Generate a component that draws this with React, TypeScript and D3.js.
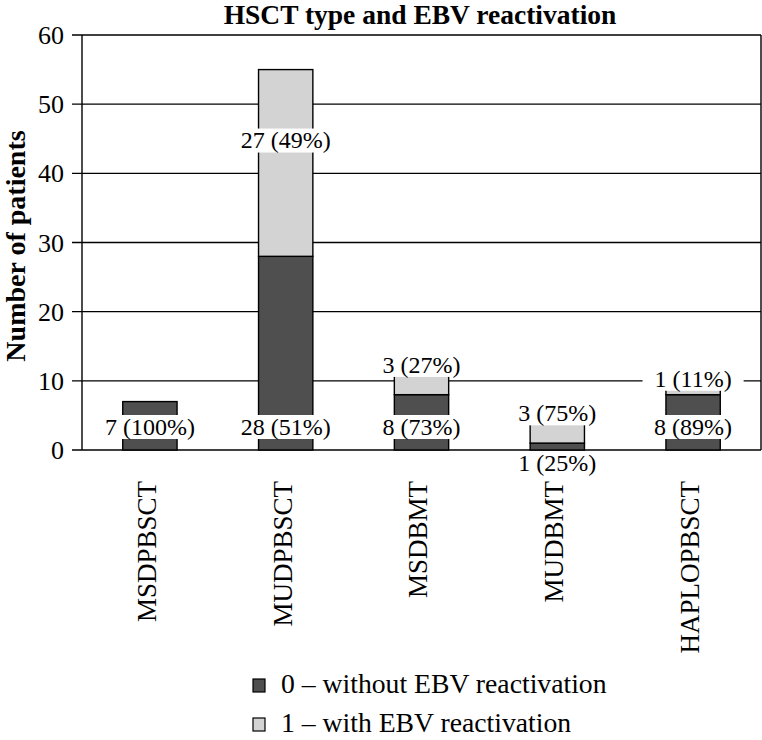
import React, { useEffect, useRef } from 'react';
import * as d3 from 'd3';

const categories = ['MSDPBSCT', 'MUDPBSCT', 'MSDBMT', 'MUDBMT', 'HAPLOPBSCT'];
const withoutEbv = [7, 28, 8, 1, 8];
const withEbv = [0, 27, 3, 3, 1];
const yTicks = [0, 10, 20, 30, 40, 50, 60];
const legendLabels = ['0 \u2013 without EBV reactivation', '1 \u2013 with EBV reactivation'];

const W = 762;
const H = 740;
const margin = { left: 82, right: 1, top: 35, bottom: 290 };
const colors = { dark: '#4f4f4f', light: '#d3d3d3' };
const serif = 'Liberation Serif, Times New Roman, Times, DejaVu Serif, serif';

export default function App() {
  const ref = useRef<SVGSVGElement | null>(null);

  useEffect(() => {
    const svg = d3.select(ref.current).attr('font-family', serif);
    svg.selectAll('*').remove();

    const x = d3.scaleBand()
      .domain(categories)
      .range([margin.left, W - margin.right])
      .paddingInner(0.6)
      .paddingOuter(0.3);
    const y = d3.scaleLinear().domain([0, 60]).range([H - margin.bottom, margin.top]);
    const y0 = y(0);

    svg.append('rect').attr('width', W).attr('height', H).attr('fill', '#fff');

    // title
    svg.append('text')
      .attr('x', 420)
      .attr('y', 24)
      .attr('text-anchor', 'middle')
      .attr('font-weight', 'bold')
      .attr('font-size', 27.5)
      .text('HSCT type and EBV reactivation');

    // gridlines + ticks
    const grid = svg.append('g');
    grid.selectAll('line')
      .data(yTicks)
      .enter()
      .append('line')
      .attr('x1', margin.left - 10)
      .attr('x2', W - margin.right)
      .attr('y1', d => y(d))
      .attr('y2', d => y(d))
      .attr('stroke', '#000')
      .attr('stroke-width', 1.4);
    grid.selectAll('text')
      .data(yTicks)
      .enter()
      .append('text')
      .attr('x', 64)
      .attr('y', d => y(d))
      .attr('dy', '0.35em')
      .attr('text-anchor', 'end')
      .attr('font-size', 26)
      .text(d => d);
    // left axis and right border
    svg.append('line')
      .attr('x1', margin.left).attr('x2', margin.left)
      .attr('y1', y(60)).attr('y2', y0)
      .attr('stroke', '#000').attr('stroke-width', 1.4);
    svg.append('line')
      .attr('x1', W - margin.right).attr('x2', W - margin.right)
      .attr('y1', y(60)).attr('y2', y0)
      .attr('stroke', '#000').attr('stroke-width', 1.4);

    // y title
    svg.append('text')
      .attr('transform', 'translate(25,' + 246 + ') rotate(-90)')
      .attr('text-anchor', 'middle')
      .attr('font-weight', 'bold')
      .attr('font-size', 28)
      .text('Number of patients');

    // bars
    const bars = svg.append('g');
    categories.forEach((c, i) => {
      const a = withoutEbv[i];
      const b = withEbv[i];
      bars.append('rect')
        .attr('x', x(c)!)
        .attr('y', y(a))
        .attr('width', x.bandwidth())
        .attr('height', y0 - y(a))
        .attr('fill', colors.dark)
        .attr('stroke', '#000')
        .attr('stroke-width', 1.4);
      if (b > 0) {
        bars.append('rect')
          .attr('x', x(c)!)
          .attr('y', y(a + b))
          .attr('width', x.bandwidth())
          .attr('height', y(a) - y(a + b))
          .attr('fill', colors.light)
          .attr('stroke', '#000')
          .attr('stroke-width', 1.4);
      }
    });

    // value labels with white boxes
    const labels = svg.append('g');
    const addLabel = (cx: number, cy: number, txt: string) => {
      const g = labels.append('g');
      const rect = g.append('rect').attr('fill', '#fff');
      const t = g.append('text')
        .attr('x', cx)
        .attr('y', cy)
        .attr('dy', '0.33em')
        .attr('text-anchor', 'middle')
        .attr('font-size', 24)
        .text(txt);
      const w = (t.node() as SVGTextElement).getComputedTextLength();
      rect.attr('x', cx - w / 2 - 12).attr('y', cy - 12).attr('width', w + 24).attr('height', 24);
    };
    categories.forEach((c, i) => {
      const a = withoutEbv[i];
      const b = withEbv[i];
      const total = a + b;
      const cx = x(c)! + x.bandwidth() / 2;
      const hA = y0 - y(a);
      const yA = hA < 20 ? y0 + 13 : Math.max((y0 + y(a)) / 2, y0 - 23);
      addLabel(cx, yA, a + ' (' + Math.round((a / total) * 100) + '%)');
      if (b > 0) {
        const top = y(a + b);
        const hB = y(a) - top;
        const yB = hB > 100 ? top + 0.38 * hB : top - 9;
        addLabel(cx, yB, b + ' (' + Math.round((b / total) * 100) + '%)');
      }
    });

    // category labels
    svg.append('g')
      .selectAll('text')
      .data(categories)
      .enter()
      .append('text')
      .attr('transform', d => 'translate(' + (x(d)! + x.bandwidth() / 2) + ',' + 481 + ') rotate(-90)')
      .attr('dy', '0.22em')
      .attr('text-anchor', 'end')
      .attr('font-size', 27)
      .text(d => d);

    // legend
    const legend = svg.append('g');
    legendLabels.forEach((l, i) => {
      const by = 693 + i * 39;
      legend.append('rect')
        .attr('x', 253).attr('y', by - 14)
        .attr('width', 12).attr('height', 13)
        .attr('fill', i === 0 ? colors.dark : colors.light)
        .attr('stroke', '#000').attr('stroke-width', 1.2);
      legend.append('text')
        .attr('x', 281).attr('y', by)
        .attr('font-size', 27.7)
        .text(l);
    });
  }, []);

  return (
    <svg ref={ref} width={W} height={H} style={{ position: 'absolute', left: 0, top: 0 }} />
  );
}
